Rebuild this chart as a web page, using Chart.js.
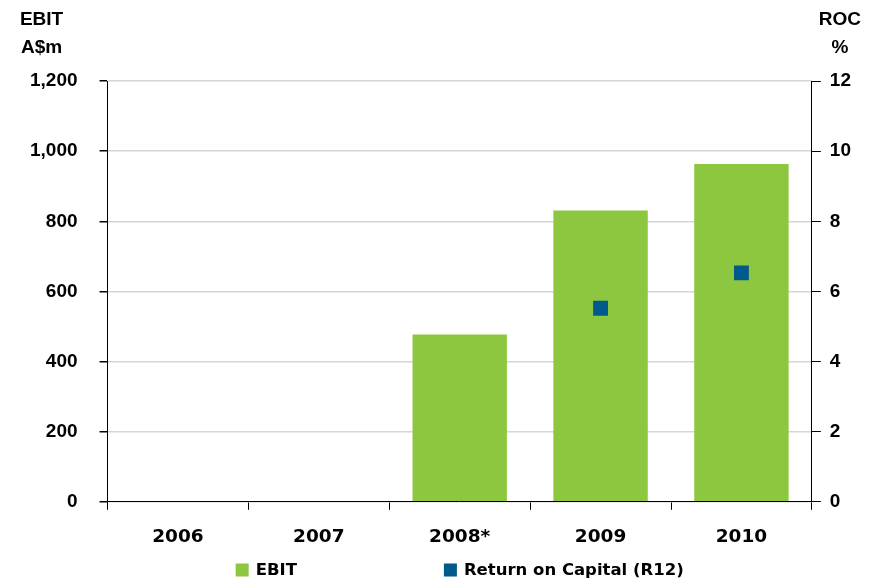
<!DOCTYPE html>
<html>
<head>
<meta charset="utf-8">
<script src="https://cdn.jsdelivr.net/npm/chart.js@4/dist/chart.umd.min.js"></script>
<style>
  html, body { margin: 0; padding: 0; background: #fff; }
  #wrap { width: 877px; height: 582px; position: relative; }
</style>
</head>
<body>
<div id="wrap"><canvas id="c"></canvas></div>
<script>
// Financial years shown on the category axis
const years = ['2006', '2007', '2008*', '2009', '2010'];
// EBIT in A$ millions (left axis)
const ebit = [null, null, 477, 831, 963];
// Return on capital, rolling 12 months, in % (right axis)
const roc = [null, null, null, 5.52, 6.53];
// Axis headings
const leftTitle = ['EBIT', 'A$m'];
const rightTitle = ['ROC', '%'];
// Series names, in legend order
const seriesNames = ['EBIT', 'Return on Capital (R12)'];

const GREEN = '#8DC63F';
const BLUE = '#005A8C';
const ARIAL = 'Liberation Sans';
const DEJAVU = 'DejaVu Sans';

const fmt = new Intl.NumberFormat('en-US');

// Draws the two axis headings above the plot
const axisHeadings = {
  id: 'axisHeadings',
  afterDraw(chart) {
    const { ctx, chartArea } = chart;
    ctx.save();
    ctx.fillStyle = '#000';
    ctx.font = 'bold 19px "' + ARIAL + '"';
    ctx.textAlign = 'center';
    ctx.textBaseline = 'middle';
    const lx = chartArea.left - 66;
    const rx = chartArea.right + 28;
    ctx.fillText(leftTitle[0], lx, 20);
    ctx.fillText(leftTitle[1], lx, 48);
    ctx.fillText(rightTitle[0], rx, 20);
    ctx.fillText(rightTitle[1], rx, 48);
    ctx.restore();
  }
};

// Legend row under the category axis
const legendRow = {
  id: 'legendRow',
  afterDraw(chart) {
    const { ctx, chartArea } = chart;
    const items = seriesNames.map(n => chart.data.datasets.find(d => d.label === n));
    ctx.save();
    ctx.font = 'bold 16.5px "' + DEJAVU + '"';
    ctx.textBaseline = 'middle';
    ctx.textAlign = 'left';
    const box = 13, gapText = 7, gapItems = 147;
    const widths = items.map(d => box + gapText + ctx.measureText(d.label).width);
    const total = widths.reduce((a, b) => a + b, 0) + gapItems * (items.length - 1);
    let x = (chartArea.left + chartArea.right) / 2 - total / 2;
    const y = 570;
    items.forEach((d, i) => {
      ctx.fillStyle = d.legendColor;
      ctx.fillRect(x, y - box / 2, box, box);
      ctx.fillStyle = '#000';
      ctx.fillText(d.label, x + box + gapText, y + 1);
      x += widths[i] + gapItems;
    });
    ctx.restore();
  }
};

function draw() {
  new Chart(document.getElementById('c'), {
    data: {
      labels: years,
      datasets: [
        {
          type: 'line',
          label: seriesNames[1],
          data: roc,
          yAxisID: 'y1',
          showLine: false,
          pointStyle: 'rect',
          pointRadius: 10.5,
          pointHoverRadius: 10.5,
          backgroundColor: BLUE,
          borderColor: BLUE,
          borderWidth: 0,
          legendColor: BLUE,
          order: 0
        },
        {
          type: 'bar',
          label: seriesNames[0],
          data: ebit,
          yAxisID: 'y',
          backgroundColor: GREEN,
          borderWidth: 0,
          categoryPercentage: 1,
          barPercentage: 0.67,
          legendColor: GREEN,
          order: 1
        }
      ]
    },
    options: {
      responsive: true,
      maintainAspectRatio: false,
      animation: false,
      layout: { padding: { left: 8, right: 17, top: 81, bottom: 18 } },
      plugins: {
        legend: { display: false },
        tooltip: { enabled: false }
      },
      scales: {
        x: {
          grid: {
            offset: true,
            drawOnChartArea: false,
            drawTicks: true,
            tickLength: 8,
            tickColor: '#000'
          },
          border: { display: true, color: '#000', width: 1 },
          ticks: {
            color: '#000',
            padding: 16,
            font: { family: DEJAVU, size: 18.5, weight: 'bold' }
          }
        },
        y: {
          position: 'left',
          min: 0,
          max: 1200,
          ticks: {
            stepSize: 200,
            color: '#000',
            padding: 22,
            font: { family: ARIAL, size: 19, weight: 'bold' },
            callback: v => fmt.format(v)
          },
          grid: {
            color: '#d6d6d6',
            lineWidth: 1.5,
            tickColor: '#000',
            tickLength: 8
          },
          border: { display: true, color: '#000', width: 1 }
        },
        y1: {
          position: 'right',
          min: 0,
          max: 12,
          ticks: {
            stepSize: 2,
            color: '#000',
            padding: 9,
            font: { family: ARIAL, size: 19, weight: 'bold' }
          },
          grid: {
            drawOnChartArea: false,
            tickColor: '#000',
            tickLength: 9
          },
          border: { display: true, color: '#000', width: 1 }
        }
      }
    },
    plugins: [axisHeadings, legendRow]
  });
}

Promise.all([
  document.fonts.load('bold 19px "' + ARIAL + '"'),
  document.fonts.load('bold 18px "' + DEJAVU + '"')
]).then(draw, draw);
</script>
</body>
</html>
